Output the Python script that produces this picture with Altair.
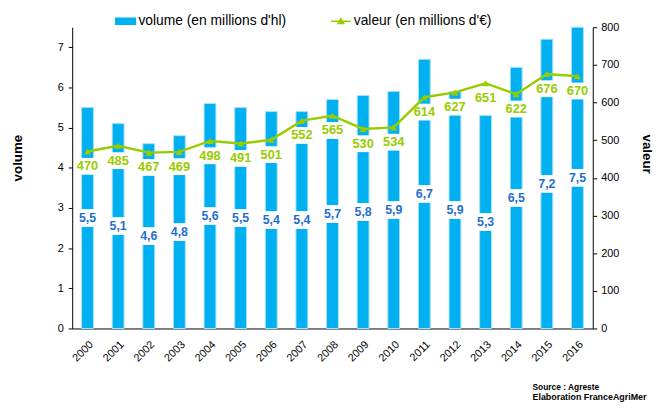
import altair as alt
import pandas as pd

years = [str(y) for y in range(2000, 2017)]
volume = [5.5, 5.1, 4.6, 4.8, 5.6, 5.5, 5.4, 5.4, 5.7, 5.8, 5.9, 6.7, 5.9, 5.3, 6.5, 7.2, 7.5]
valeur = [470, 485, 467, 469, 498, 491, 501, 552, 565, 530, 534, 614, 627, 651, 622, 676, 670]
vol_name = "volume (en millions d'hl)"
val_name = "valeur (en millions d'€)"
series = [vol_name, val_name]

df = pd.DataFrame({"annee": years, "volume": volume, "valeur": valeur})
df["vol_half"] = df["volume"] / 2
df["vol_label"] = df["volume"].map(lambda v: f"{v:.1f}".replace(".", ","))
df["val_label"] = df["valeur"].astype(str)

FONT = "Liberation Sans"
BLUE = "#00B0F0"
GREEN = "#99CC00"
LBLUE = "#1F6FD1"

x = alt.X("annee:N", sort=years,
          scale=alt.Scale(paddingInner=0, paddingOuter=0),
          axis=alt.Axis(title=None, labelAngle=-45, labelFontSize=11, ticks=False,
                        labelPadding=10, domainColor="black", labelColor="black"))

yl_scale = alt.Scale(domain=[0, 7.5], nice=False)
yl_axis = alt.Axis(title="volume", values=list(range(8)), tickSize=4, labelPadding=5,
                   labelFontSize=11, titleFontSize=13.5, titleFontWeight="bold",
                   titleX=-55, titleY=132, titleBaseline="middle", titleAlign="center")
yr_scale = alt.Scale(domain=[0, 800], nice=False)
yr_axis = alt.Axis(title="valeur", orient="right", values=list(range(0, 801, 100)), tickSize=4,
                   labelPadding=4, labelFontSize=11, titleFontSize=13.5, titleFontWeight="bold",
                   titleX=54, titleY=128, titleBaseline="middle", titleAlign="center")

base = alt.Chart(df)

bars = base.mark_bar(size=12, color=BLUE, stroke="#A8E2F7", strokeWidth=1).encode(
    x=x, y=alt.Y("volume:Q", scale=yl_scale, axis=yl_axis))
vboxes = base.mark_tick(color="white", thickness=18, size=22, opacity=1).encode(
    x=x, y=alt.Y("vol_half:Q", scale=yl_scale, axis=yl_axis))
vtext = base.mark_text(font=FONT, fontSize=12.5, fontWeight="bold", color=LBLUE).encode(
    x=x, y=alt.Y("vol_half:Q", scale=yl_scale, axis=yl_axis), text="vol_label:N")
left = alt.layer(bars, vboxes, vtext)

lboxes = base.mark_tick(color="white", thickness=17, size=24, opacity=1, yOffset=15).encode(
    x=x, y=alt.Y("valeur:Q", scale=yr_scale, axis=yr_axis))
line = base.mark_line(color=GREEN, strokeWidth=2.5).encode(
    x=x, y=alt.Y("valeur:Q", scale=yr_scale, axis=yr_axis))
pts = base.mark_point(shape="triangle-up", filled=True, color=GREEN, size=50, opacity=1).encode(
    x=x, y=alt.Y("valeur:Q", scale=yr_scale, axis=yr_axis))
ltext = base.mark_text(dy=15, font=FONT, fontSize=13, fontWeight="bold", color=GREEN).encode(
    x=x, y=alt.Y("valeur:Q", scale=yr_scale, axis=yr_axis), text="val_label:N")
right = alt.layer(lboxes, line, pts, ltext)

rect_path = "M-1,-0.3H1V0.3H-1Z"
line_path = "M-1,0H1M-0.28,0.22L0,-0.26L0.28,0.22Z"
cs = alt.Scale(domain=series, range=[BLUE, GREEN])
ss = alt.Scale(domain=series, range=[rect_path, line_path])
leg = alt.Legend(title=None, orient="none", legendX=43, legendY=-17, direction="horizontal",
                 symbolSize=400, symbolStrokeWidth=1.5, symbolOpacity=1, labelFontSize=14,
                 labelFont=FONT, labelColor="black", columnPadding=42, labelOffset=2,
                 labelLimit=400)
legend_df = pd.DataFrame({"serie": series})
legend_layer = alt.Chart(legend_df).mark_point(filled=True, opacity=0).encode(
    fill=alt.Fill("serie:N", scale=cs, legend=leg),
    stroke=alt.Stroke("serie:N", scale=cs, legend=leg),
    shape=alt.Shape("serie:N", scale=ss, legend=leg),
)

chart = alt.layer(left, right, legend_layer).resolve_scale(y="independent").properties(
    width=527, height=305,
    padding={"left": 65, "top": 17, "right": 63, "bottom": 74},
    autosize=alt.AutoSizeParams(type="none"),
    title=alt.TitleParams(text="Source : Agreste", subtitle="Elaboration FranceAgriMer",
                          orient="bottom", anchor="start", frame="group", dx=466, offset=20,
                          font=FONT, fontSize=8.5, fontWeight="bold", color="black",
                          subtitleFont=FONT, subtitleFontSize=9, subtitleFontWeight="bold",
                          subtitleColor="black", subtitlePadding=2),
).configure_axis(
    labelFont=FONT, titleFont=FONT, labelColor="black", titleColor="black",
    domainColor="black", tickColor="black", grid=False,
).configure_view(stroke=None)

chart.save("out.html", embed_options={"renderer": "svg", "actions": False})
